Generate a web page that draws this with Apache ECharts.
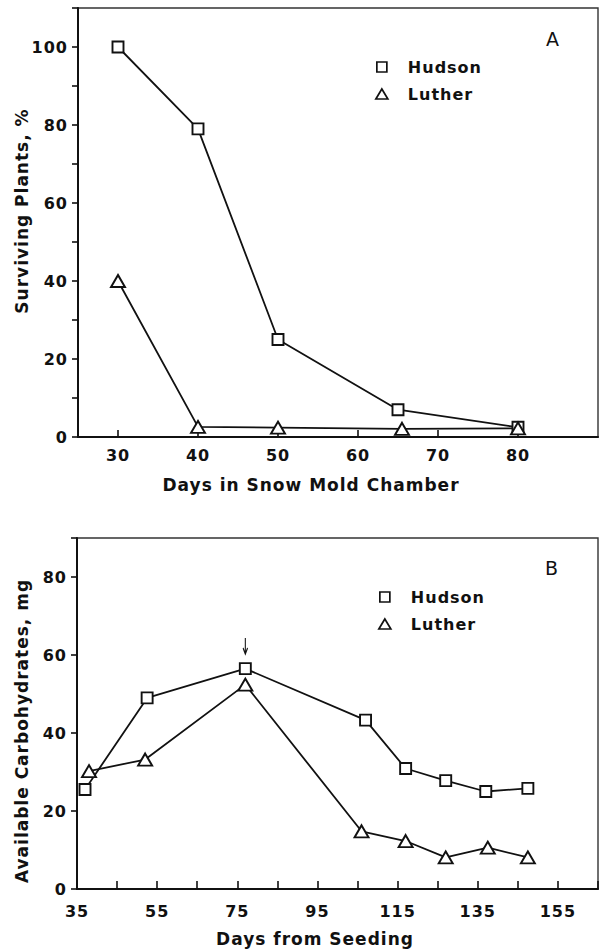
<!DOCTYPE html>
<html><head><meta charset="utf-8">
<script src="https://cdn.jsdelivr.net/npm/echarts@6/dist/echarts.min.js"></script>
<style>
html,body{margin:0;padding:0;background:#fff}
#c{width:605px;height:951px}
#c text{letter-spacing:1px}
</style></head><body><div id="c"></div>
<script>
// Panel A: surviving plants (%) vs days in snow mold chamber
const daysHudsonA = [30, 40, 50, 65, 80];
const hudsonA = [100, 79, 25, 7, 2.5];
const daysLutherA = [30, 40, 50, 65.5, 80];
const lutherA = [40, 2.6, 2.4, 2.1, 2.2];
const ticksA = [30, 40, 50, 60, 70, 80];

// Panel B: available carbohydrates (mg) vs days from seeding
const daysHudsonB = [37, 52.5, 77, 107, 117, 127, 137, 147.5];
const hudsonB = [25.5, 49, 56.5, 43.3, 30.9, 27.8, 25, 25.8];
const daysLutherB = [38, 52, 77, 106, 117, 127, 137.5, 147.5];
const lutherB = [30.2, 33.2, 52.4, 14.8, 12.3, 8.1, 10.6, 8.1];
const arrowDay = 77;
const arrowLevel = 62.3;

const FONT = 'DejaVu Sans';
const INK = '#111';
const pairs = (xs, ys) => xs.map((x, i) => [x, ys[i]]);

const lineBase = (name, xi, data, sym, size) => ({
  type: 'line', name, xAxisIndex: xi, yAxisIndex: xi, data,
  symbol: sym, symbolSize: size, showAllSymbol: true,
  itemStyle: {color: '#fff', borderColor: INK, borderWidth: 1.9},
  lineStyle: {color: INK, width: 1.8},
  animation: false, silent: true
});

const legendBase = (left, top) => ({
  orient: 'vertical', left, top, itemWidth: 12, itemHeight: 10, itemGap: 11,
  selectedMode: false,
  data: [
    {name: 'Hudson', icon: 'path://M0,0H10V10H0Z'},
    {name: 'Luther', icon: 'triangle'}
  ],
  itemStyle: {color: '#fff', borderColor: INK, borderWidth: 1.7},
  textStyle: {fontFamily: FONT, fontWeight: 'bold', fontSize: 16, color: INK, padding: [0, 0, 0, 15]}
});

const labelStyle = {fontFamily: FONT, fontWeight: 'bold', fontSize: 16, color: INK};

const option = {
  backgroundColor: '#fff',
  grid: [
    {left: 78, top: 8, width: 520, height: 429, show: true, borderColor: '#333', borderWidth: 1.4, containLabel: false},
    {left: 77, top: 538, width: 521, height: 351, show: true, borderColor: '#333', borderWidth: 1.4, containLabel: false}
  ],
  legend: [legendBase(370, 54), legendBase(373, 584)],
  xAxis: [
    {type: 'value', gridIndex: 0, min: 25, max: 90,
      axisLine: {lineStyle: {color: INK, width: 2}},
      axisTick: {inside: true, length: 7, lineStyle: {color: INK, width: 1.6}, customValues: ticksA},
      axisLabel: Object.assign({margin: 10, customValues: ticksA}, labelStyle),
      splitLine: {show: false}},
    {type: 'value', gridIndex: 1, min: 35, max: 165, interval: 10,
      axisLine: {lineStyle: {color: INK, width: 2}},
      axisTick: {inside: true, length: 8, lineStyle: {color: INK, width: 1.6}},
      axisLabel: Object.assign({margin: 14, formatter: v => ((v - 35) % 20 === 0 && v <= 155) ? String(v) : ''}, labelStyle),
      splitLine: {show: false}}
  ],
  yAxis: [
    {type: 'value', gridIndex: 0, min: 0, max: 110, interval: 10,
      axisLine: {show: true, lineStyle: {color: INK, width: 2}},
      axisTick: {show: true, inside: false, length: 6, lineStyle: {color: INK, width: 1.6}},
      axisLabel: Object.assign({margin: 10, formatter: v => (v % 20 === 0 && v <= 100) ? String(v) : ''}, labelStyle),
      splitLine: {show: false}},
    {type: 'value', gridIndex: 1, min: 0, max: 90, interval: 20,
      axisLine: {show: true, lineStyle: {color: INK, width: 2}},
      axisTick: {show: true, inside: false, length: 6, lineStyle: {color: INK, width: 1.6}},
      axisLabel: Object.assign({margin: 10, formatter: v => (v <= 80) ? String(v) : ''}, labelStyle),
      splitLine: {show: false}}
  ],
  series: [
    lineBase('Hudson', 0, pairs(daysHudsonA, hudsonA), 'rect', 11),
    lineBase('Luther', 0, pairs(daysLutherA, lutherA), 'triangle', [14, 12]),
    Object.assign(lineBase('Hudson', 1, pairs(daysHudsonB, hudsonB), 'rect', 11), {
      markPoint: {
        silent: true, animation: false,
        symbol: 'path://M5,0L5,16M1,10L5,16L9,10',
        symbolSize: [9, 16], symbolKeepAspect: true,
        label: {show: false},
        itemStyle: {color: 'none', borderColor: INK, borderWidth: 1.4},
        data: [{coord: [arrowDay, arrowLevel]}]
      }
    }),
    lineBase('Luther', 1, pairs(daysLutherB, lutherB), 'triangle', [14, 12])
  ],
  graphic: [
    {type: 'text', x: 553, y: 39, silent: true,
      style: {text: 'A', fontFamily: FONT, fontSize: 19, fill: INK, align: 'center', verticalAlign: 'middle'}},
    {type: 'text', x: 552, y: 568, silent: true,
      style: {text: 'B', fontFamily: FONT, fontSize: 19, fill: INK, align: 'center', verticalAlign: 'middle'}},
    {type: 'text', x: 311, y: 485, silent: true,
      style: {text: 'Days in Snow Mold Chamber', fontFamily: FONT, fontWeight: 'bold', fontSize: 17, fill: INK, align: 'center', verticalAlign: 'middle'}},
    {type: 'text', x: 315, y: 939, silent: true,
      style: {text: 'Days from Seeding', fontFamily: FONT, fontWeight: 'bold', fontSize: 17, fill: INK, align: 'center', verticalAlign: 'middle'}},
    {type: 'text', x: 22, y: 211, rotation: Math.PI / 2, silent: true,
      style: {text: 'Surviving Plants, %', fontFamily: FONT, fontWeight: 'bold', fontSize: 17, fill: INK, align: 'center', verticalAlign: 'middle'}},
    {type: 'text', x: 22, y: 731, rotation: Math.PI / 2, silent: true,
      style: {text: 'Available Carbohydrates, mg', fontFamily: FONT, fontWeight: 'bold', fontSize: 17, fill: INK, align: 'center', verticalAlign: 'middle'}}
  ]
};

const chart = echarts.init(document.getElementById('c'), null, {renderer: 'svg'});
chart.setOption(option);
</script></body></html>
